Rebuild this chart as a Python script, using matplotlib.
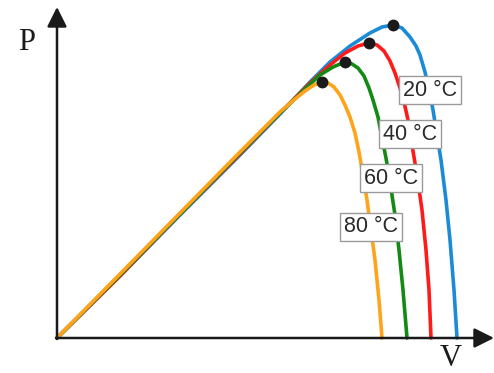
import matplotlib
matplotlib.use("Agg")
import matplotlib.pyplot as plt

# P-V curves of a solar cell at different temperatures (arbitrary units)
v_20 = [0, 63, 123, 183, 223, 253, 273, 293, 313, 325, 336,
        345, 353, 359, 363, 368, 372, 376, 380, 384, 389, 393, 397, 400]
p_20 = [0, 62, 123, 183, 224, 256, 276, 292, 305, 311, 313,
        310, 301, 292, 283, 266, 248, 228, 203, 178, 138, 98, 48, 0]

v_40 = [0, 63, 123, 183, 223, 253, 273, 288, 301, 312,
        320, 327, 333, 338, 343, 347, 351, 355, 360, 365, 369, 372, 374]
p_40 = [0, 62, 124, 184, 225, 255, 273, 285, 292, 295,
        293, 287, 277, 265, 250, 236, 218, 193, 163, 128, 88, 48, 0]

v_60 = [0, 63, 123, 183, 223, 248, 263, 276, 288,
        295, 301, 307, 312, 316, 321, 325, 329, 333, 338, 342, 346, 350]
p_60 = [0, 63, 124, 185, 225, 249, 263, 271, 276,
        274, 270, 262, 250, 238, 221, 200, 180, 156, 123, 88, 48, 0]

v_80 = [0, 63, 123, 183, 223, 238, 248, 257, 265,
        271, 277, 283, 288, 293, 298, 302, 306, 310, 314, 318, 322, 325]
p_80 = [0, 64, 125, 186, 226, 239, 247, 253, 256,
        255, 251, 243, 233, 221, 205, 186, 163, 138, 108, 78, 38, 0]

# maximum power points
mpp_v = [336, 312, 288, 265]
mpp_p = [313, 295, 276, 256]

labels = ["20 °C", "40 °C", "60 °C", "80 °C"]
label_x = [373, 353, 334, 314]
label_y = [248, 204, 160, 111]

curves = [(v_20, p_20, "#1b8bd6"),
          (v_40, p_40, "#ff1a1a"),
          (v_60, p_60, "#138a13"),
          (v_80, p_80, "#ffa31a")]

fig = plt.figure(figsize=(4.94, 3.73), dpi=100)
ax = fig.add_axes([0, 0, 1, 1])
ax.set_xlim(-57, 437)
ax.set_ylim(-35, 338)
ax.axis("off")

for v, p, c in curves:
    ax.plot(v, p, color=c, lw=2.6, solid_joinstyle="round", solid_capstyle="round")

ax.plot(mpp_v, mpp_p, "o", color="#1a1a1a", ms=7.5, zorder=5)

# axes with arrows
arrow = dict(arrowstyle="-|>", lw=1.8, color="#1a1a1a", mutation_scale=30,
             shrinkA=0, shrinkB=0)
ax.annotate("", xy=(0, 331), xytext=(0, -1), arrowprops=arrow)
ax.annotate("", xy=(437, 0), xytext=(-1, 0), arrowprops=arrow)

ax.text(-30, 295, "P", fontsize=22, family="Liberation Serif", ha="center", va="center", color="#1a1a1a")
ax.text(394, -21, "V", fontsize=22, family="Liberation Serif", ha="center", va="center", color="#1a1a1a")

for t, x, y in zip(labels, label_x, label_y):
    ax.text(x, y, t, fontsize=15.5, family="Liberation Sans", color="#2a2a2a",
            ha="center", va="center", zorder=6,
            bbox=dict(boxstyle="square,pad=0.18", fc="white", ec="#9a9a9a", lw=1))

fig.savefig("out.png", dpi=100)
